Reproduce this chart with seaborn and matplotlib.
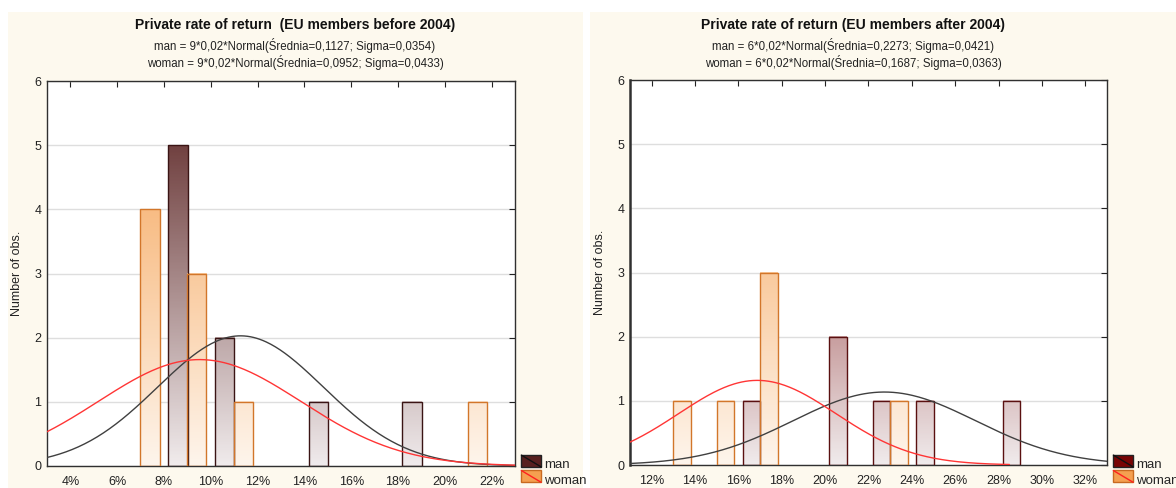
import numpy as np
import matplotlib
matplotlib.use("Agg")
import matplotlib.pyplot as plt
import seaborn as sns
from matplotlib.patches import Rectangle, Patch
from matplotlib.lines import Line2D
from matplotlib.colors import LinearSegmentedColormap, Normalize
from matplotlib.ticker import PercentFormatter, MultipleLocator

# EU members before 2004 - bar centres and counts
old_man_x = [0.086, 0.106, 0.146, 0.186]
old_man_n = [5, 2, 1, 1]
old_woman_x = [0.074, 0.094, 0.114, 0.214]
old_woman_n = [4, 3, 1, 1]

# EU members after 2004
new_man_x = [0.166, 0.206, 0.226, 0.246, 0.286]
new_man_n = [1, 2, 1, 1, 1]
new_woman_x = [0.134, 0.154, 0.174, 0.234]
new_woman_n = [1, 1, 3, 1]

# fitted normal curves: n, bin width, mean, sigma (from the subtitles)
old_man_fit = (9, 0.02, 0.1127, 0.0354)
old_woman_fit = (9, 0.02, 0.0952, 0.0433)
new_man_fit = (6, 0.02, 0.2273, 0.0421)
new_woman_fit = (6, 0.02, 0.1687, 0.0363)

titles = ["Private rate of return  (EU members before 2004)",
          "Private rate of return (EU members after 2004)"]
subtitles = [
    ["man = 9*0,02*Normal(Średnia=0,1127; Sigma=0,0354)",
     "woman = 9*0,02*Normal(Średnia=0,0952; Sigma=0,0433)"],
    ["man = 6*0,02*Normal(Średnia=0,2273; Sigma=0,0421)",
     "woman = 6*0,02*Normal(Średnia=0,1687; Sigma=0,0363)"],
]

sns.set_style("white")
plt.rcParams["font.family"] = ["Liberation Sans", "DejaVu Sans"]

CREAM = "#fdf9ee"
W_DARK = "#f5a050"


class DiagBox:
    """legend box with a diagonal line like in Statistica"""
    def __init__(self, face, edge, line):
        self.face, self.edge, self.line = face, edge, line

    def legend_artist(self, legend, orig_handle, fontsize, handlebox):
        x0, y0 = handlebox.xdescent, handlebox.ydescent
        w, h = handlebox.width, handlebox.height
        tr = handlebox.get_transform()
        r = Rectangle((x0, y0), w, h, facecolor=self.face, edgecolor=self.edge, lw=1, transform=tr)
        l = Line2D([x0, x0 + w], [y0 + h, y0], color=self.line, lw=1, transform=tr)
        handlebox.add_artist(r)
        handlebox.add_artist(l)
        return r


def normal_curve(fit, lo, hi):
    n, bw, mu, sd = fit
    xs = np.linspace(lo, hi, 300)
    ys = n * bw * np.exp(-0.5 * ((xs - mu) / sd) ** 2) / (sd * np.sqrt(2 * np.pi))
    return xs, ys


def shade(ax, bars, cmap):
    for b in bars:
        x0, w, h = b.get_x(), b.get_width(), b.get_height()
        grad = np.linspace(0, h, 100).reshape(-1, 1)
        ax.imshow(grad, extent=(x0, x0 + w, 0, h), origin="lower", aspect="auto",
                  cmap=cmap, norm=Normalize(0, 6), zorder=2, interpolation="bilinear")
        b.set_facecolor("none")
        b.set_zorder(3)


def panel(ax, man_x, man_n, woman_x, woman_n, man_fit, woman_fit, xlim, woman_end,
          man_col, man_edge, left_lw):
    k = len(ax.patches)
    sns.barplot(x=man_x, y=man_n, native_scale=True, width=0.41, errorbar=None,
                color=man_col, edgecolor=man_edge, linewidth=1, ax=ax)
    man_bars = ax.patches[k:]
    k = len(ax.patches)
    sns.barplot(x=woman_x, y=woman_n, native_scale=True, width=0.41, errorbar=None,
                color=W_DARK, edgecolor="#d2762a", linewidth=1, ax=ax)
    woman_bars = ax.patches[k:]

    shade(ax, man_bars, LinearSegmentedColormap.from_list("m", ["#f0ebec", man_col]))
    shade(ax, woman_bars, LinearSegmentedColormap.from_list("w", ["#fef5ec", W_DARK]))

    xs, ys = normal_curve(man_fit, xlim[0], xlim[1])
    sns.lineplot(x=xs, y=ys, color="#404040", lw=1, ax=ax, zorder=5)
    xs, ys = normal_curve(woman_fit, xlim[0], woman_end)
    sns.lineplot(x=xs, y=ys, color="#ff3535", lw=1, ax=ax, zorder=5)

    ax.set_xlim(*xlim)
    ax.set_ylim(0, 6)
    ax.xaxis.set_major_locator(MultipleLocator(0.02))
    ax.xaxis.set_major_formatter(PercentFormatter(xmax=1, decimals=0))
    ax.yaxis.set_major_locator(MultipleLocator(1))
    ax.yaxis.grid(True, color="#dedede", lw=1)
    ax.xaxis.grid(False)
    ax.set_axisbelow(True)
    ax.tick_params(direction="in", length=4, width=0.8, top=True, right=True,
                   labelsize=9, colors="#222222")
    ax.tick_params(axis="x", pad=7)
    ax.tick_params(axis="y", pad=4)
    ax.set_xlabel("")
    ax.set_ylabel("Number of obs.", fontsize=9, labelpad=8, color="#222222")
    for s in ax.spines.values():
        s.set_color("#303030")
        s.set_linewidth(1)
    ax.spines["left"].set_linewidth(left_lw)
    ax.set_facecolor("white")


fig = plt.figure(figsize=(11.76, 4.88), dpi=100, facecolor="white")
fig.patches.append(Rectangle((8 / 1176, 0), 575 / 1176, 476 / 488, transform=fig.transFigure,
                             facecolor=CREAM, edgecolor="none", zorder=-10))
fig.patches.append(Rectangle((590 / 1176, 0), 586 / 1176, 476 / 488, transform=fig.transFigure,
                             facecolor=CREAM, edgecolor="none", zorder=-10))

ax1 = fig.add_axes([47 / 1176, 22 / 488, 468 / 1176, 385 / 488])
ax2 = fig.add_axes([630 / 1176, 23 / 488, 477 / 1176, 385 / 488])

panel(ax1, old_man_x, old_man_n, old_woman_x, old_woman_n, old_man_fit, old_woman_fit,
      (0.03, 0.23), 0.23, "#58201f", "#3a1414", 1)
panel(ax2, new_man_x, new_man_n, new_woman_x, new_woman_n, new_man_fit, new_woman_fit,
      (0.11, 0.33), 0.285, "#780404", "#5a1010", 1.8)

# titles
for cx, t, sub in [(295 / 1176, titles[0], subtitles[0]), (853 / 1176, titles[1], subtitles[1])]:
    fig.text(cx, 1 - 25 / 488, t, ha="center", va="center", fontsize=10, fontweight="bold",
             color="#111111")
    fig.text(cx, 1 - 46 / 488, sub[0], ha="center", va="center", fontsize=8.3, color="#222222")
    fig.text(cx, 1 - 62 / 488, sub[1], ha="center", va="center", fontsize=8.3, color="#222222")

# legends
for lx, mcol in [(520 / 1176, "#58201f"), (1112 / 1176, "#780404")]:
    hm, hw = Patch(label="man"), Patch(label="woman")
    fig.legend(handles=[hm, hw], loc="lower left", bbox_to_anchor=(lx, 0.0),
               handler_map={hm: DiagBox(mcol, "#222222", "#111111"),
                            hw: DiagBox(W_DARK, "#c86a20", "#ff2020")},
               frameon=False, fontsize=9.5, handlelength=1.5, handleheight=1.0,
               handletextpad=0.2, labelspacing=0.15, borderpad=0.1, borderaxespad=0)

fig.savefig("out.png", dpi=100, facecolor=fig.get_facecolor())
